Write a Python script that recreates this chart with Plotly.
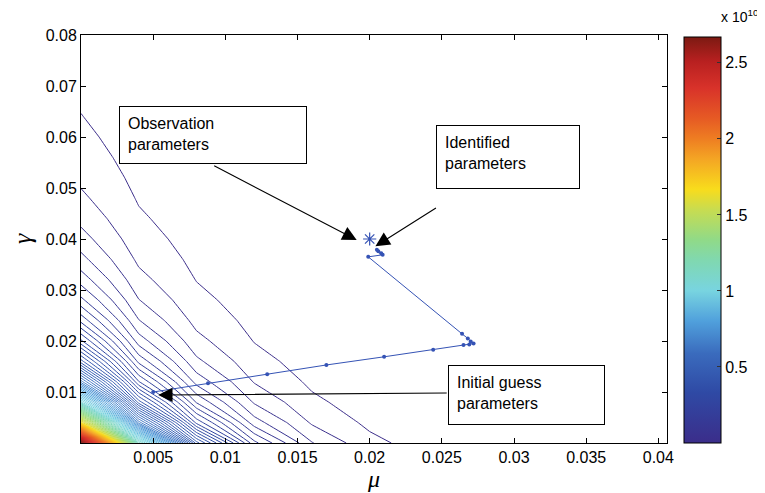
import numpy as np
import plotly.graph_objects as go

# ---- data -------------------------------------------------------------
mu_grid = [0.000, 0.004, 0.008, 0.012, 0.016, 0.020, 0.024, 0.028, 0.032, 0.036, 0.040]
gamma_grid = [0.000, 0.004, 0.008, 0.012, 0.016, 0.020, 0.024, 0.028, 0.032, 0.036, 0.040,
              0.044, 0.048, 0.052, 0.056, 0.060, 0.064, 0.068, 0.072, 0.076, 0.080]
# relative cost read along the two axes (from contour spacing)
mu_profile = [1.0, 0.4181, 0.1748, 0.0731, 0.03056, 0.01278, 0.005343, 0.002234,
              0.000934, 0.0003905, 0.0001633]
gamma_profile = [1.0, 0.6120, 0.3944, 0.2650, 0.1844, 0.1321, 0.09696, 0.07270, 0.05556,
                 0.04314, 0.03399, 0.02713, 0.02191, 0.01788, 0.01473, 0.01223, 0.01025,
                 0.00864, 0.00734, 0.00627, 0.00539]
cost_max = 2.67e10
n_levels = 100
cost = cost_max * np.outer(gamma_profile, mu_profile)

# identification path
path_mu = [0.0050, 0.0088, 0.0129, 0.0170, 0.0210, 0.0244, 0.0265, 0.0269, 0.0272, 0.0270,
           0.0268, 0.0264, 0.0199, 0.0209, 0.0208, 0.0206, 0.0205]
path_gamma = [0.0100, 0.0117, 0.0135, 0.0153, 0.0169, 0.0183, 0.0192, 0.0193, 0.0195, 0.0199,
              0.0205, 0.0214, 0.0365, 0.0369, 0.0372, 0.0376, 0.0379]
obs_mu = [0.02]
obs_gamma = [0.04]

x_ticks = [0.005, 0.01, 0.015, 0.02, 0.025, 0.03, 0.035, 0.04]
y_ticks = [0.01, 0.02, 0.03, 0.04, 0.05, 0.06, 0.07, 0.08]
cb_ticks = [0.5e10, 1.0e10, 1.5e10, 2.0e10, 2.5e10]
cb_text = ["0.5", "1", "1.5", "2", "2.5"]

# ---- style ------------------------------------------------------------
jet_pale = [
    [0.0, "#3b2d8a"], [0.125, "#2f4aa5"], [0.22, "#3a6bbd"], [0.3, "#50a0dc"],
    [0.375, "#78d4e0"], [0.45, "#80d8b0"], [0.5, "#90da88"], [0.575, "#c8dc50"],
    [0.625, "#f8dc1c"], [0.7, "#f4a524"], [0.75, "#ee7d22"], [0.8, "#e65a24"],
    [0.875, "#d8322a"], [0.94, "#b82020"], [1.0, "#7c1a12"],
]
FONT = "Liberation Sans, Arial, Helvetica, sans-serif"
SERIF = "Liberation Serif, serif"
OFF = 8                      # page body margin of the browser
W, H = 765 - OFF, 493 - OFF
# plot area in screen pixels: x 81..667, y 35..443
L, T = 81 - OFF, 35 - OFF
R, B = W - (667 - OFF), H - (443 - OFF)
PW, PH = W - L - R, H - T - B

def px(X):
    return (X - OFF - L) / PW

def py(Y):
    return (H - B - (Y - OFF)) / PH

step = cost_max / n_levels
fig = go.Figure()
fig.add_trace(go.Contour(
    x=mu_grid, y=gamma_grid, z=cost,
    colorscale=jet_pale, zmin=0, zmax=cost_max, zauto=False,
    autocontour=False,
    contours=dict(start=step, end=cost_max - 0.5 * step, size=step, coloring="lines"),
    line=dict(width=1, smoothing=0),
    showscale=False, hoverinfo="skip",
))
fig.add_trace(go.Scatter(
    x=path_mu, y=path_gamma, mode="lines+markers",
    line=dict(color="#3553b5", width=1),
    marker=dict(color="#3553b5", size=4),
    showlegend=False,
))
fig.add_trace(go.Scatter(
    x=obs_mu, y=obs_gamma, mode="markers",
    marker=dict(symbol="asterisk-open", size=11, color="#3553b5",
                line=dict(color="#3553b5", width=1.2)),
    showlegend=False,
))
# colour bar
fig.add_trace(go.Scatter(
    x=[None, None], y=[None, None], mode="markers",
    marker=dict(color=[0, cost_max], colorscale=jet_pale, cmin=0, cmax=cost_max,
                showscale=True,
                colorbar=dict(x=px(684), xanchor="left", xpad=0, ypad=0,
                              y=py((37 + 443) / 2), yanchor="middle",
                              len=(443 - 37) / PH, lenmode="fraction",
                              thickness=37, thicknessmode="pixels",
                              outlinewidth=1, outlinecolor="black",
                              tickvals=cb_ticks, ticktext=cb_text,
                              ticks="inside", ticklen=4, tickcolor="#333",
                              tickfont=dict(size=16, color="black", family=FONT))),
    showlegend=False, hoverinfo="skip",
))

box_style = dict(xref="paper", yref="paper", xanchor="left", yanchor="top",
                 showarrow=False, align="left", valign="top",
                 bordercolor="black", borderwidth=1, borderpad=8, bgcolor="white",
                 font=dict(size=16, color="black", family=FONT))
arrow_style = dict(xref="x", yref="y", axref="pixel", ayref="pixel", text="",
                   showarrow=True, arrowhead=2, arrowsize=2.6, arrowwidth=1.1,
                   arrowcolor="black", standoff=0)

annotations = [
    dict(x=px(119), y=py(106), text="Observation<br>parameters", width=170, height=40, **box_style),
    dict(x=px(436), y=py(125), text="Identified<br>parameters", width=126, height=46, **box_style),
    dict(x=px(448), y=py(365), text="Initial guess<br>parameters", width=139, height=42, **box_style),
    dict(x=0.0191, y=0.0398, ax=-144, ay=-75, **arrow_style),
    dict(x=0.0204, y=0.0386, ax=62, ay=-39, **arrow_style),
    dict(x=0.00535, y=0.0094, ax=290, ay=-2, **arrow_style),
    dict(x=px(761), y=py(27), xref="paper", yref="paper", xanchor="right", yanchor="bottom",
         text="x 10<sup>10</sup>", showarrow=False,
         font=dict(size=14, color="black", family=FONT)),
]

axis_common = dict(showline=True, linecolor="black", linewidth=1, mirror="allticks",
                   ticks="inside", ticklen=5, tickcolor="black", showgrid=False,
                   zeroline=False, automargin=False,
                   tickfont=dict(size=16, color="black", family=FONT))
fig.update_layout(
    width=W, height=H, margin=dict(l=L, r=R, t=T, b=B, autoexpand=False),
    paper_bgcolor="white", plot_bgcolor="white",
    xaxis=dict(range=[0, 0.0406], tickvals=x_ticks, ticktext=[str(v) for v in x_ticks],
               title=dict(text="<i>μ</i>", standoff=2,
                          font=dict(size=24, family=SERIF, color="black")),
               **axis_common),
    yaxis=dict(range=[0, 0.08], tickvals=y_ticks, ticktext=[str(v) for v in y_ticks],
               title=dict(text="<i>γ</i>", standoff=32,
                          font=dict(size=26, family=SERIF, color="black")),
               **axis_common),
    annotations=annotations,
    showlegend=False,
)
fig.write_html("out.html")
